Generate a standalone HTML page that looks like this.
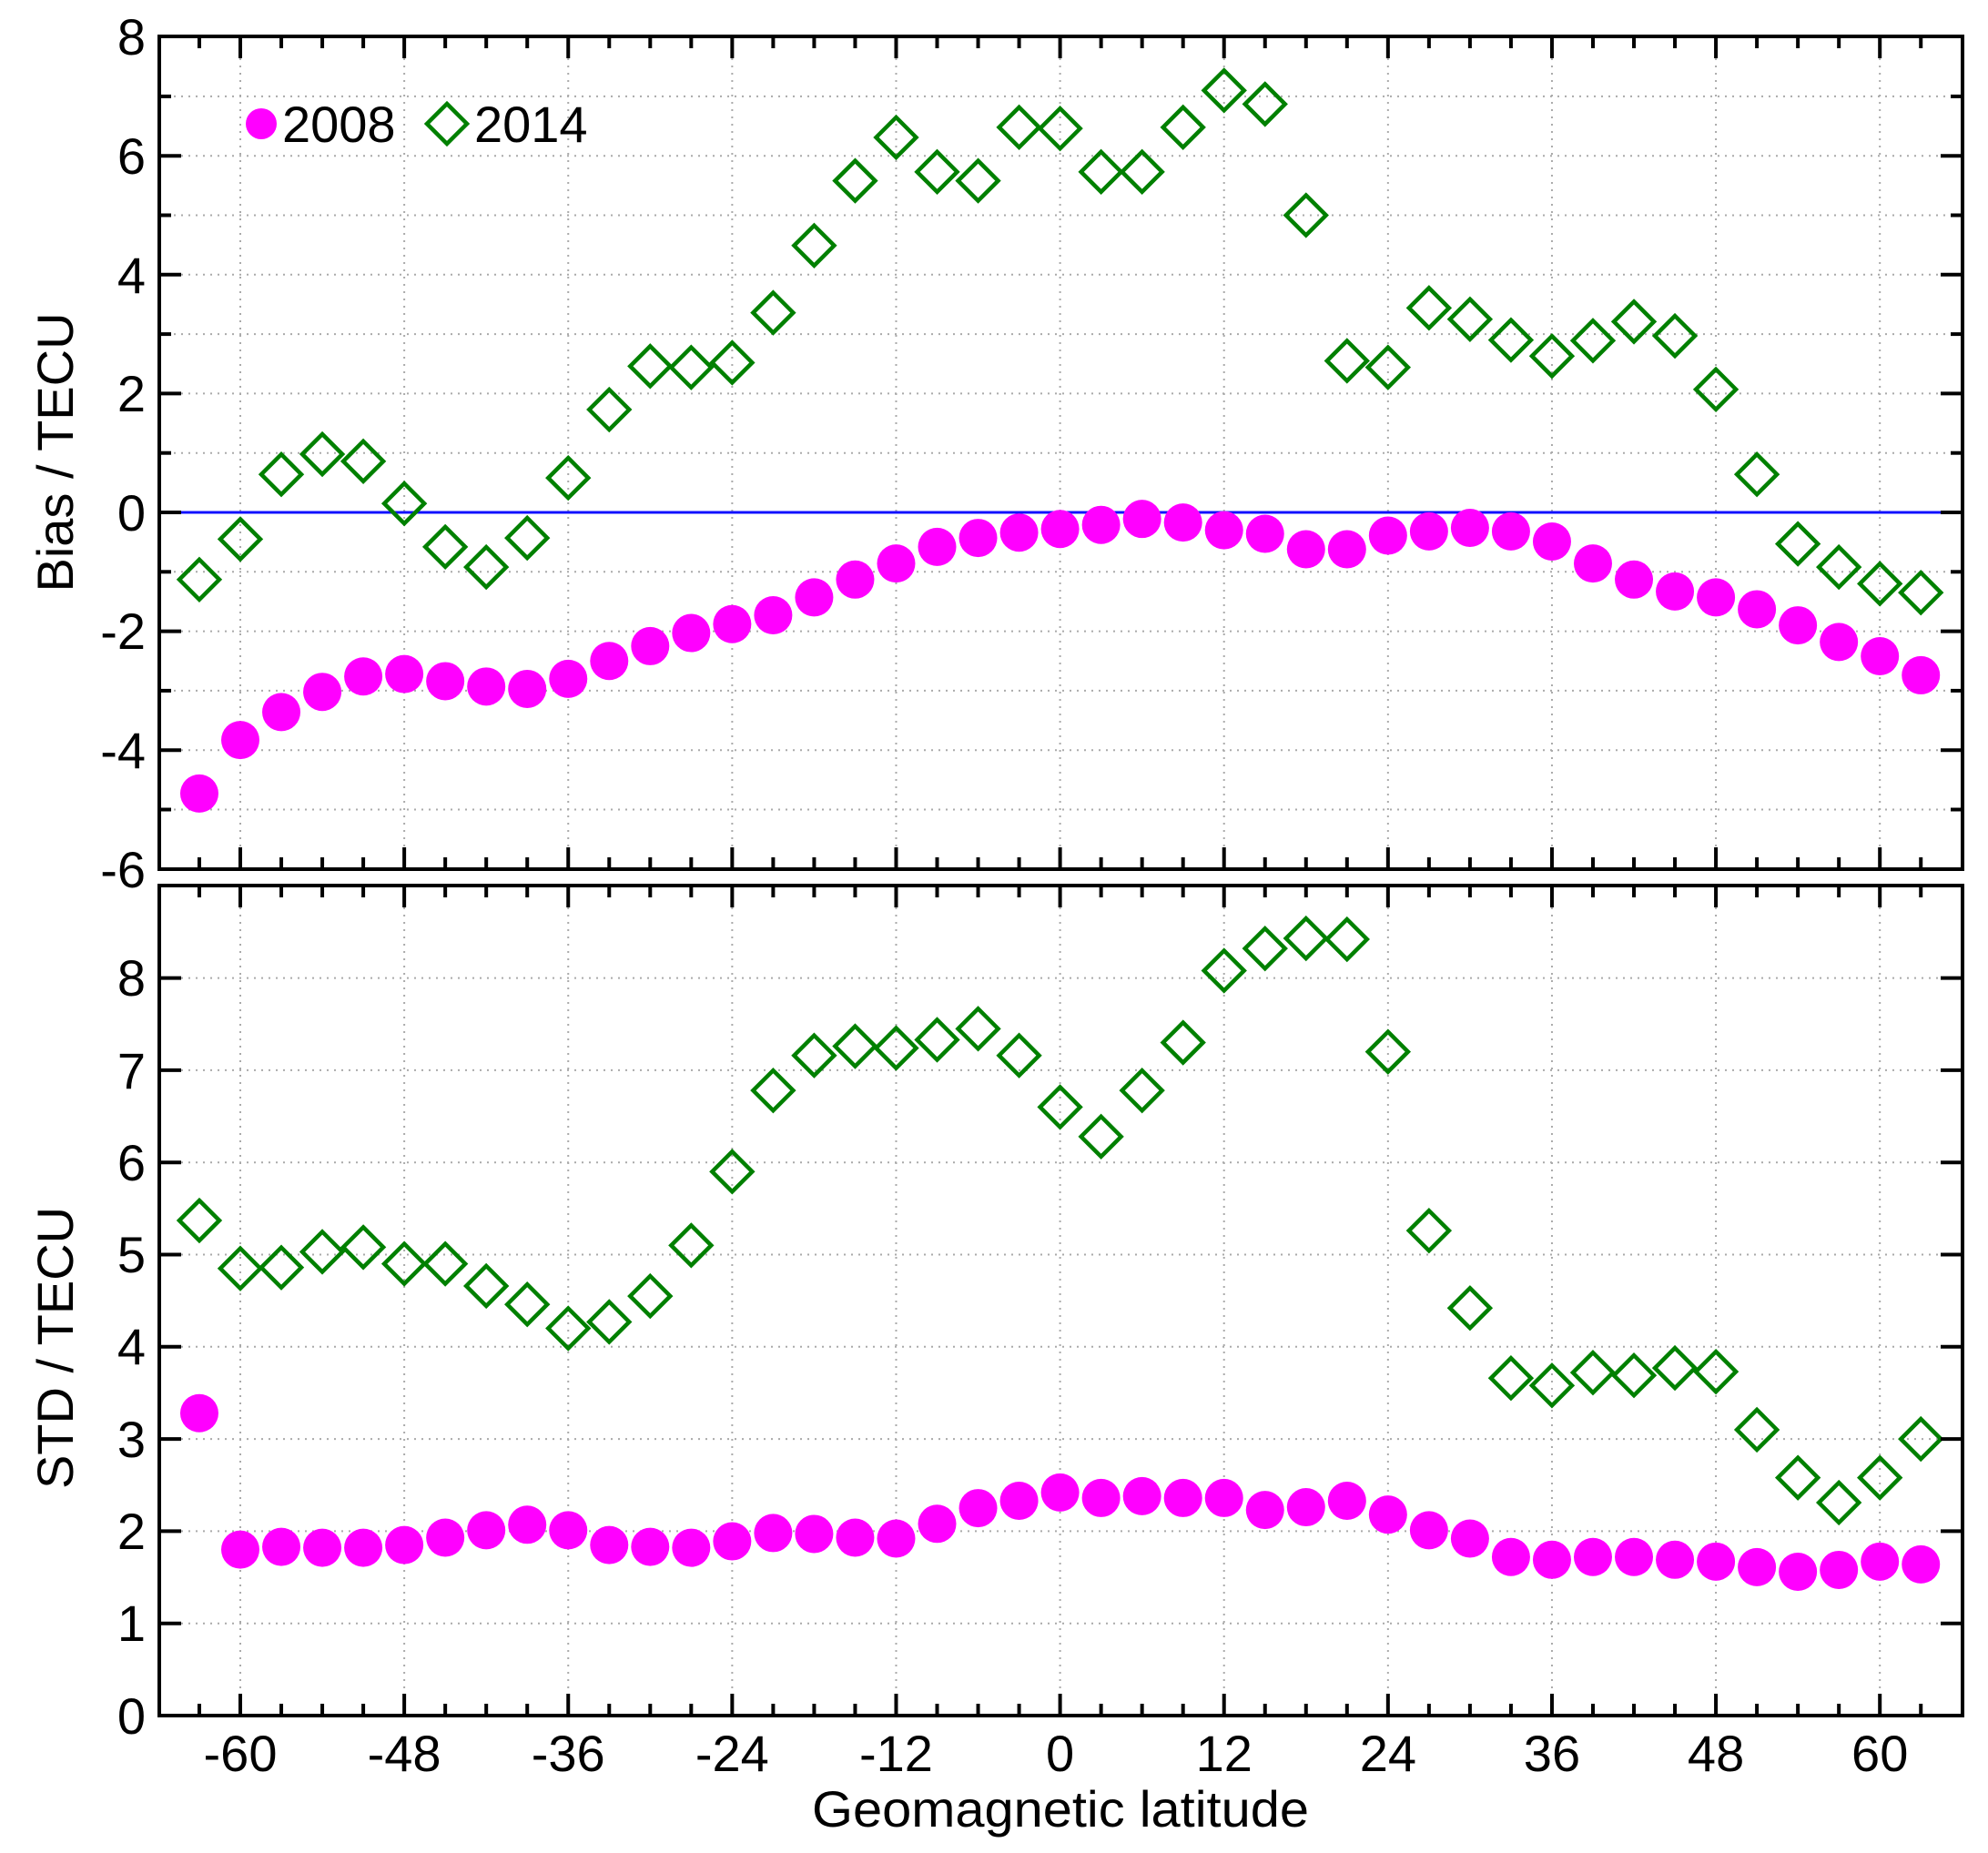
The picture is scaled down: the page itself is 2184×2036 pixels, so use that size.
<!DOCTYPE html>
<html><head><meta charset="utf-8"><style>
html,body{margin:0;padding:0;background:#fff;}
svg{display:block;font-family:"Liberation Sans",Arial,sans-serif;}
</style></head><body>
<svg id="s" width="2184" height="2036" viewBox="0 0 2184 2036" xmlns="http://www.w3.org/2000/svg">
<rect width="2184" height="2036" fill="#fff"/>
<g id="grid"></g>
<line x1="175" y1="563" x2="2156" y2="563" stroke="#1010ff" stroke-width="3"/>
<g id="marks"></g>
<g id="axes" fill="none" stroke="#000" stroke-width="4"></g>
<g font-size="56" fill="#000" text-anchor="end">
<text x="160" y="60">8</text><text x="160" y="191">6</text><text x="160" y="322">4</text><text x="160" y="452">2</text>
<text x="160" y="583">0</text><text x="160" y="713">-2</text>
<text x="160" y="844">-4</text><text x="160" y="975">-6</text>
<text x="160" y="1905">0</text><text x="160" y="1803">1</text><text x="160" y="1702">2</text><text x="160" y="1601">3</text>
<text x="160" y="1499">4</text><text x="160" y="1398">5</text><text x="160" y="1297">6</text><text x="160" y="1196">7</text><text x="160" y="1094">8</text>
</g>
<g font-size="56" fill="#000" text-anchor="middle" id="xl"></g>
<text x="1165" y="2007" font-size="56" text-anchor="middle" textLength="546" lengthAdjust="spacingAndGlyphs">Geomagnetic latitude</text>
<text transform="translate(80,497) rotate(-90)" font-size="56" text-anchor="middle">Bias / TECU</text>
<text transform="translate(80,1481) rotate(-90)" font-size="56" text-anchor="middle">STD / TECU</text>
<circle cx="287" cy="136" r="17" fill="#ff00ff"/>
<text x="310" y="156" font-size="56">2008</text>
<path d="M491 114 L513 136 L491 158 L469 136 Z" fill="none" stroke="#008000" stroke-width="4.5"/>
<text x="521" y="156" font-size="56">2014</text>
</svg>
<script>
(function(){
var NS="http://www.w3.org/2000/svg";
function el(p,t,a){var e=document.createElementNS(NS,t);for(var k in a)e.setAttribute(k,a[k]);p.appendChild(e);return e;}
var L=175,R=2156;
function X(l){return 264+(l+60)*15.01;}
function YT(v){return 563-65.3*v;}
function YB(v){return 1885-101.3*v;}
var grid=document.getElementById('grid'),ax=document.getElementById('axes'),mk=document.getElementById('marks'),xl=document.getElementById('xl');
var gs={stroke:"#aaa","stroke-width":2,"stroke-dasharray":"2 6"};
var T0=40,T1=955,B0=973,B1=1885;
for(var v=-5;v<=7;v++){var y=YT(v);var a=Object.assign({x1:L,x2:R,y1:y,y2:y},gs);el(grid,'line',a);
 var len=(v%2==0)?24:13;el(ax,'line',{x1:L,x2:L+len,y1:y,y2:y});el(ax,'line',{x1:R,x2:R-len,y1:y,y2:y});}
for(var v=1;v<=8;v++){var y=YB(v);var a=Object.assign({x1:L,x2:R,y1:y,y2:y},gs);el(grid,'line',a);
 el(ax,'line',{x1:L,x2:L+24,y1:y,y2:y});el(ax,'line',{x1:R,x2:R-24,y1:y,y2:y});}
for(var l=-63;l<=63;l+=3){var x=X(l);var maj=(l%12==0);var len=maj?24:13;
 if(maj){[[T0,T1],[B0,B1]].forEach(function(p){var a=Object.assign({x1:x,x2:x,y1:p[0],y2:p[1]},gs);el(grid,'line',a);});
  var t=el(xl,'text',{x:x,y:1946});t.textContent=String(l);}
 [T0,B0].forEach(function(y){el(ax,'line',{x1:x,x2:x,y1:y,y2:y+len});});
 [T1,B1].forEach(function(y){el(ax,'line',{x1:x,x2:x,y1:y,y2:y-len});});}
el(ax,'rect',{x:L,y:T0,width:R-L,height:T1-T0});
el(ax,'rect',{x:L,y:B0,width:R-L,height:B1-B0});
var bias14=[-1.13,-0.45,0.64,0.98,0.86,0.15,-0.58,-0.92,-0.43,0.58,1.73,2.46,2.44,2.52,3.36,4.49,5.58,6.31,5.73,5.58,6.48,6.46,5.73,5.73,6.48,7.1,6.87,5.0,2.55,2.44,3.44,3.25,2.9,2.63,2.89,3.21,2.97,2.07,0.64,-0.53,-0.92,-1.2,-1.35];
var bias08=[-4.73,-3.83,-3.36,-3.02,-2.76,-2.72,-2.84,-2.93,-2.97,-2.8,-2.5,-2.25,-2.03,-1.88,-1.73,-1.43,-1.13,-0.86,-0.58,-0.43,-0.34,-0.28,-0.21,-0.11,-0.17,-0.3,-0.36,-0.62,-0.62,-0.39,-0.32,-0.26,-0.32,-0.49,-0.86,-1.13,-1.33,-1.43,-1.63,-1.9,-2.18,-2.42,-2.74];
var std14=[5.37,4.85,4.86,5.03,5.08,4.9,4.9,4.66,4.46,4.2,4.27,4.55,5.1,5.9,6.78,7.16,7.26,7.24,7.33,7.45,7.16,6.6,6.28,6.78,7.3,8.08,8.32,8.43,8.42,7.2,5.26,4.42,3.66,3.58,3.72,3.69,3.77,3.73,3.1,2.58,2.31,2.58,3.0];
var std08=[3.28,1.8,1.83,1.82,1.82,1.85,1.93,2.01,2.07,2.01,1.85,1.83,1.82,1.89,1.98,1.97,1.93,1.92,2.08,2.25,2.33,2.42,2.36,2.38,2.36,2.36,2.23,2.26,2.33,2.18,2.01,1.92,1.72,1.69,1.72,1.72,1.69,1.67,1.61,1.56,1.58,1.67,1.64];
function dia(x,y){el(mk,'path',{d:"M"+x+" "+(y-22)+" L"+(x+22)+" "+y+" L"+x+" "+(y+22)+" L"+(x-22)+" "+y+" Z",fill:"none",stroke:"#008000","stroke-width":4.5});}
for(var i=0;i<43;i++){var x=X(-63+3*i);
 el(mk,'circle',{cx:x,cy:YT(bias08[i]),r:21,fill:"#ff00ff"});
 dia(x,YT(bias14[i]));
 el(mk,'circle',{cx:x,cy:YB(std08[i]),r:21,fill:"#ff00ff"});
 dia(x,YB(std14[i]));}
})();
</script>
</body></html>
